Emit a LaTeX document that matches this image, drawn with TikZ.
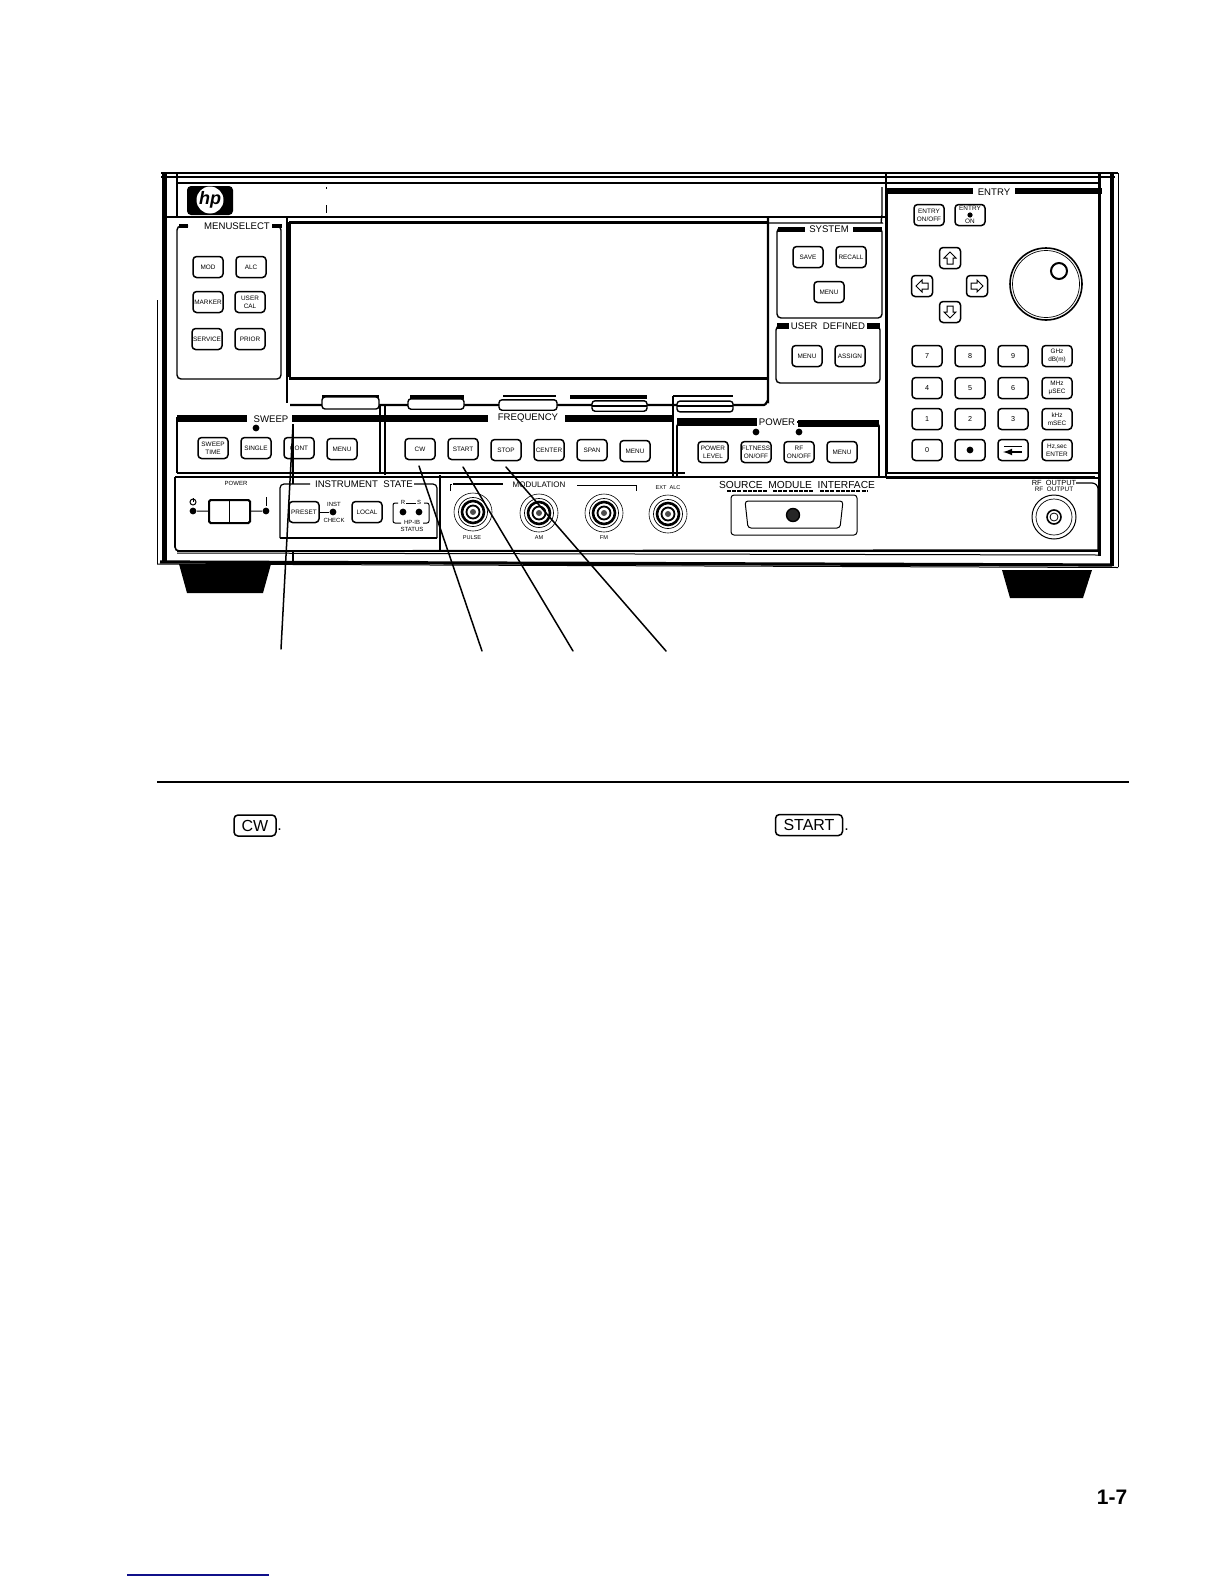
\documentclass[tikz,border=0pt]{standalone}
\usepackage{fontspec}
\setmainfont{Liberation Sans}
\definecolor{bluerule}{HTML}{10108A}
\tikzset{
  pkey/.style={draw=black,fill=white,rounded corners=1.8pt,line width=.75pt,minimum width=15pt,minimum height=10.5pt,inner sep=0pt,align=center,font=\fontsize{3.2}{4}\selectfont},
  nkey/.style={pkey,font=\fontsize{3.6}{4}\selectfont},
  akey/.style={pkey,minimum width=10.5pt,minimum height=10.5pt},
  biglabel/.style={inner sep=0pt,font=\fontsize{4.8}{5}\selectfont},
  smalllabel/.style={inner sep=0pt,align=center,font=\fontsize{3}{3.6}\selectfont},
  leader/.style={line width=.75pt,line cap=round},
  grp/.style={line width=.7pt,rounded corners=2pt},
  hair/.style={line width=.5pt},
  fine/.style={line width=.75pt},
  heavy/.style={line width=1.4pt},
  led/.style={circle,fill=black,draw=none,inner sep=0pt,minimum size=3.4pt},
  softkey/.style={draw=black,fill=white,rounded corners=1.5pt,line width=.7pt,inner sep=0pt},
}
\newcommand{\bncjack}[3]{%
  \node[circle,draw,line width=.3pt,minimum size=19pt,inner sep=0pt] (#1) at (#2,#3) {};
  \draw[line width=.35pt] (#1) circle (14.5);
  \draw[line width=1.3pt] (#1) circle (11);
  \draw[line width=.9pt] (#1) circle (6.5);
  \fill[black!70] (#1) circle (3);
}
\begin{document}
\begin{tikzpicture}[x=.5pt,y=-.5pt]
\useasboundingbox (0,0) rectangle (1224,1584);
\fill[white] (0,0) rectangle (1224,1584);
% outer frame
\draw[fine] (161,173) -- (1118,173);
\draw[heavy] (161,177) -- (1115,177);
\draw[line width=1pt] (177,183) -- (1100,183);
\draw[line width=2.5pt] (164.5,173) -- (164.5,563);
\draw[hair] (157,300) -- (157,564);
\draw[fine] (177,173) -- (177,217);
\draw[fine] (167,217) -- (886,217);
\draw[fine] (886,173) -- (886,477);
\draw[line width=1.5pt] (1099,173) -- (1099,556);
\draw[line width=2.3pt] (1112,173) -- (1112,566);
\draw[hair] (1118,173) -- (1118,567);
\draw[grp] (768,223) -- (878,223) to[out=0,in=90] (882,219) -- (882,187);
% bottom
\draw[fine] (177,551) -- (1098,550);
\draw[hair] (177,553) -- (1098,555);
\draw[line width=1.6pt] (160,562) -- (1112,565);
\draw[hair] (157,564) -- (1118,567.5);
% feet
\fill (179,564) -- (271,564) -- (263,593) -- (187,593) -- cycle;
\fill (1002,570) -- (1092,570) -- (1083,598) -- (1010,598) -- cycle;
% logo
\fill[rounded corners=2pt] (187,186) rectangle (233,215);
\fill[white] (210,200) circle (13.5);
\node[inner sep=0pt,font=\fontsize{9}{9}\bfseries\itshape\selectfont] (logo) at (210,200) {hp};
\fill (325.5,187) rectangle (326.5,189);
\fill (325.5,205) rectangle (326.5,213);
% display
\draw[line width=1.5pt] (289,222) -- (768,222);
\draw[line width=1.5pt] (289,222) -- (289,377);
\draw[line width=1.5pt] (289,378) -- (768,378);
\draw[line width=1.1pt] (768,217) -- (768,401) to[out=90,in=0] (764,405) -- (290,405);
\draw[fine] (287,217) -- (287,403);
% softkeys
\fill (322,395) rectangle (379,399);
\fill (410,395) rectangle (464,399);
\draw[fine] (503,396) -- (556,396);
\fill (570,395) rectangle (647,399);
\draw[line width=1pt] (673,396) -- (733,396);
\node[softkey,minimum width=28.5pt,minimum height=6pt] (sk1) at (350.5,403) {};
\node[softkey,minimum width=28pt,minimum height=5.2pt] (sk2) at (436,404) {};
\node[softkey,minimum width=29pt,minimum height=5.2pt] (sk3) at (528,405) {};
\node[softkey,minimum width=27.5pt,minimum height=5.2pt] (sk4) at (619.5,406) {};
\node[softkey,minimum width=28pt,minimum height=5.4pt] (sk5) at (705,406.5) {};
\draw[fine] (592,406) -- (647,406);
\draw[fine] (677,406) -- (733,406);
% menu select
\draw[grp] (272,226) -- (281,226) -- (281,379) -- (177,379) -- (177,226) -- (188,226);
\fill (179,224) rectangle (188,228);
\fill (272,224) rectangle (282,228);
\node[biglabel] (lmenu) at (237,226) {MENUSELECT};
\node[pkey] (mod) at (208,267) {MOD};
\node[pkey] (alc) at (251,267) {ALC};
\node[pkey] (marker) at (208,302) {MARKER};
\node[pkey] (usercal) at (250,302) {USER\\CAL};
\node[pkey] (service) at (207,339) {SERVICE};
\node[pkey] (prior) at (250,339) {PRIOR};
% sweep / frequency
\draw[line width=1.1pt] (177,473) -- (177,417);
\fill (177,415) rectangle (247,422);
\fill (292,415) rectangle (488,422);
\fill (565,415) rectangle (674,422);
\node[biglabel] (lsweep) at (271,419) {SWEEP};
\node[biglabel] (lfreq) at (528,418) {FREQUENCY};
\node[led] (ledsweep) at (256,428) {};
\draw[line width=1pt] (380,405) -- (380,473);
\draw[line width=1pt] (385,405) -- (385,475);
\draw[line width=1.2pt] (177,473) -- (685,473);
\draw[line width=1.2pt] (673,396) -- (673,476);
\draw[line width=.8pt] (175,477) -- (1095,477);
\node[pkey] (sweeptime) at (213,448) {SWEEP\\TIME};
\node[pkey] (single) at (256,448) {SINGLE};
\node[pkey] (cont) at (299,448) {CONT};
\node[pkey] (menusw) at (342,449) {MENU};
\node[pkey] (cw) at (420,449) {CW};
\node[pkey] (start) at (463,449) {START};
\node[pkey] (stop) at (506,450) {STOP};
\node[pkey] (center) at (549,450) {CENTER};
\node[pkey] (span) at (592,450) {SPAN};
\node[pkey] (menufr) at (635,451) {MENU};
% power
\draw[line width=.8pt,rounded corners=2pt] (677,477) -- (677,422) -- (879,422) -- (879,477);
\fill (677,418) rectangle (757,426);
\fill (798,420) rectangle (879,427);
\node[biglabel,fill=white,inner xsep=1pt] (lpower) at (777,422) {POWER};
\node[led] (ledflat) at (756,432) {};
\node[led] (ledrf) at (799,432) {};
\node[pkey] (plevel) at (713,452) {POWER\\LEVEL};
\node[pkey] (flat) at (756,452) {FLTNESS\\ON/OFF};
\node[pkey] (rf) at (799,452) {RF\\ON/OFF};
\node[pkey] (menupw) at (842,452) {MENU};
% system
\draw[grp] (777,228) rectangle (882,318);
\fill (778,227) rectangle (807,232);
\fill (853,227) rectangle (882,232);
\node[biglabel,fill=white,inner xsep=2pt] (lsys) at (829,229) {SYSTEM};
\node[pkey] (save) at (808,257) {SAVE};
\node[pkey] (recall) at (851,257) {RECALL};
\node[pkey] (menusy) at (829,292) {MENU};
% user defined
\draw[grp] (776,326) rectangle (880,383);
\fill (777,323) rectangle (791,329);
\fill (867,323) rectangle (880,329);
\node[biglabel,fill=white,inner xsep=1pt] (luser) at (828,326) {USER\ \ DEFINED};
\node[pkey] (menuus) at (807,356) {MENU};
\node[pkey] (assign) at (850,356) {ASSIGN};
% entry
\draw[line width=.8pt] (887,191) -- (887,473) -- (1100,473);
\fill (887,188) rectangle (973,194);
\fill (1015,188) rectangle (1102,194);
\node[biglabel] (lentry) at (994,192) {ENTRY};
\draw[line width=.8pt] (886,478) -- (1098,478);
\node[pkey] (entryonoff) at (929,215) {ENTRY\\ON/OFF};
\node[pkey] (entryon) at (970,215) {ENTRY\\[2.4pt]ON};
\node[led,minimum size=2.6pt] (ledentry) at (970,215) {};
\node[akey] (kup) at (950,258) {};
\node[akey] (kleft) at (922,286) {};
\node[akey] (kright) at (977,286) {};
\node[akey] (kdown) at (950,312) {};
\draw[line width=.5pt] (950,252) -- (956,258) -- (953,258) -- (953,264) -- (947,264) -- (947,258) -- (944,258) -- cycle;
\draw[line width=.5pt] (950,318) -- (956,312) -- (953,312) -- (953,306) -- (947,306) -- (947,312) -- (944,312) -- cycle;
\draw[line width=.5pt] (916,286) -- (922,280) -- (922,283) -- (928,283) -- (928,289) -- (922,289) -- (922,292) -- cycle;
\draw[line width=.5pt] (983,286) -- (977,280) -- (977,283) -- (971,283) -- (971,289) -- (977,289) -- (977,292) -- cycle;
\node[circle,draw,line width=.8pt,minimum size=36pt,inner sep=0pt] (knob) at (1046,284) {};
\draw[line width=.35pt] (knob) circle (33.5);
\node[circle,draw,line width=1pt,minimum size=8pt,inner sep=0pt] (knobdot) at (1059,271) {};
\node[nkey] (k7) at (927,356) {7};
\node[nkey] (k8) at (970,356) {8};
\node[nkey] (k9) at (1013,356) {9};
\node[pkey] (kghz) at (1057,356) {GHz\\dB(m)};
\node[nkey] (k4) at (927,388) {4};
\node[nkey] (k5) at (970,388) {5};
\node[nkey] (k6) at (1013,388) {6};
\node[pkey] (kmhz) at (1057,388) {MHz\\μSEC};
\node[nkey] (k1) at (927,419) {1};
\node[nkey] (k2) at (970,419) {2};
\node[nkey] (k3) at (1013,419) {3};
\node[pkey] (kkhz) at (1057,419) {kHz\\mSEC};
\node[nkey] (k0) at (927,450) {0};
\node[nkey] (kdot) at (970,450) {};
\node[led] (kdotmark) at (970,450) {};
\node[nkey] (kback) at (1013,450) {};
\draw[line width=.5pt] (1004,446) -- (1022,446);
\draw[line width=.6pt,-latex] (1022,452) -- (1003,452);
\node[pkey] (kenter) at (1057,450) {Hz,sec\\ENTER};
% lower panel
\draw[line width=.8pt,rounded corners=2pt] (175,477) -- (175,551) -- (1098,551);
\draw[line width=.6pt,rounded corners=3pt] (1076,483) -- (1098,483) -- (1098,551);
\node[smalllabel] (lpw) at (236,483) {POWER};
\draw[line width=.5pt] (193,502) circle (3);
\draw[line width=.5pt] (193,498) -- (193,502);
\fill (265.5,497) rectangle (266.5,506);
\node[led] (pwoff) at (193,511) {};
\node[led] (pwon) at (266,511) {};
\node[draw,line width=1pt,fill=white,rounded corners=.8pt,minimum width=20.5pt,minimum height=11.5pt,inner sep=0pt] (pwsw) at (229.5,511.5) {};
\draw[line width=.5pt] (229,500) -- (229,523);
\draw[line width=.5pt] (pwoff) -- (pwsw);
\draw[line width=.5pt] (pwsw) -- (pwon);
% instrument state
\draw[line width=.6pt,rounded corners=2pt] (280,538) -- (280,484) -- (310,484);
\draw[line width=.6pt,rounded corners=2pt] (414,484) -- (437,484) -- (437,538);
\draw[line width=1pt] (280,538) -- (437,538);
\node[biglabel] (linst) at (364,484) {INSTRUMENT\ \ STATE};
\node[pkey] (preset) at (304,512) {PRESET};
\node[led] (ledinst) at (333,512) {};
\draw[line width=.5pt] (preset) -- (ledinst);
\node[smalllabel] (linstt) at (334,504) {INST};
\node[smalllabel] (lcheck) at (334,520) {CHECK};
\node[pkey] (local) at (367,512) {LOCAL};
\node[led] (ledr) at (403,512) {};
\node[led] (leds) at (419,512) {};
\draw[line width=.5pt,rounded corners=1pt] (398,503) -- (393,503) -- (393,523) -- (401,523);
\draw[line width=.5pt,rounded corners=1pt] (424,503) -- (429,503) -- (429,523) -- (423,523);
\draw[line width=.5pt] (406,503) -- (416,503);
\node[smalllabel] (lr) at (403,502) {R};
\node[smalllabel] (ls) at (419,502) {S};
\node[smalllabel] (lhp) at (412,522) {HP-IB};
\node[smalllabel] (lstat) at (412,529) {STATUS};
\draw[line width=.7pt] (440,475) -- (440,551);
% modulation
\draw[line width=.5pt] (450,491) -- (450,484) -- (452,484);
\draw[line width=.9pt] (453,484) -- (503,484);
\draw[line width=.5pt] (577,485) -- (636,485) -- (636,491);
\node[biglabel,font=\fontsize{4}{5}\selectfont] (lmod) at (539,485) {MODULATION};
\bncjack{pulse}{473}{512}
\bncjack{am}{539}{513}
\bncjack{fm}{604}{513}
\bncjack{extalc}{668}{514}
\node[smalllabel,font=\fontsize{2.8}{3}\selectfont] (lpulse) at (472,538) {PULSE};
\node[smalllabel,font=\fontsize{2.8}{3}\selectfont] (lam) at (539,538) {AM};
\node[smalllabel,font=\fontsize{2.8}{3}\selectfont] (lfm) at (604,538) {FM};
\node[smalllabel,font=\fontsize{2.8}{3}\selectfont] (lext) at (668,488) {EXT\ \ ALC};
% source module
\node[biglabel,font=\fontsize{5.1}{6}\selectfont] (lsource) at (797,485) {SOURCE\ \ MODULE\ \ INTERFACE};
\draw[line width=.6pt,dash pattern=on 2pt off .6pt] (727,491) -- (767,491);
\draw[line width=.6pt,dash pattern=on 2pt off .6pt] (773,491) -- (813,491);
\draw[line width=.6pt,dash pattern=on 2pt off .6pt] (820,491) -- (868,491);
\draw[line width=.5pt,rounded corners=1.5pt] (731,495) rectangle (857,535);
\draw[line width=.5pt,rounded corners=1.5pt] (745,501) -- (843,501) -- (840,528) -- (748,528) -- cycle;
\node[circle,draw,fill=black!85,line width=.7pt,minimum size=6.5pt,inner sep=0pt] (srcjack) at (793,515) {};
% rf output
\node[smalllabel,font=\fontsize{3.7}{4}\selectfont] (lrf) at (1054,483) {RF\ \ OUTPUT};
\node[smalllabel,font=\fontsize{3.2}{4}\selectfont] (lrfb) at (1054,489.5) {RF\ \ OUTPUT};
\node[circle,draw,line width=.5pt,minimum size=22pt,inner sep=0pt] (rfout) at (1054,517) {};
\draw[line width=.35pt] (rfout) circle (18);
\draw[line width=.8pt] (rfout) circle (7);
\draw[line width=.4pt] (rfout) circle (4);
% leaders
\coordinate (a1) at (293,425);
\coordinate (e1) at (281,649);
\coordinate (a2) at (419,466);
\coordinate (e2) at (482,651);
\coordinate (a3) at (463,467);
\coordinate (e3) at (573,651);
\coordinate (a4) at (506,467);
\coordinate (e4) at (666,651);
\draw[line width=.6pt] (293,424) -- (293,484);
\draw[line width=.6pt] (293,550) -- (293,563);
\draw[leader] (a1) -- (e1);
\draw[leader] (a2) -- (e2);
\draw[leader] (a3) -- (e3);
\draw[leader] (a4) -- (e4);
% rule and text keys
\draw[line width=1.1pt] (157,782) -- (1129,782);
\node[draw,rounded corners=2pt,line width=.75pt,minimum width=21pt,minimum height=10.5pt,inner sep=0pt,font=\fontsize{8}{9}\selectfont] (cwt) at (255,825.5) {CW};
\node[inner sep=0pt,font=\fontsize{8}{9}\selectfont,anchor=base west] (pcw) at (277,830) {.};
\node[draw,rounded corners=2pt,line width=.75pt,minimum width=33.5pt,minimum height=10.5pt,inner sep=0pt,font=\fontsize{8}{9}\selectfont] (startt) at (809,825) {START};
\node[inner sep=0pt,font=\fontsize{8}{9}\selectfont,anchor=base west] (pstart) at (844,830) {.};
% page number
\node[inner sep=0pt,font=\fontsize{10.5}{12}\bfseries\selectfont] (pageno) at (1112,1497) {1-7};
\draw[bluerule,line width=.6pt] (127,1575) -- (269,1575);
\end{tikzpicture}
\end{document}
